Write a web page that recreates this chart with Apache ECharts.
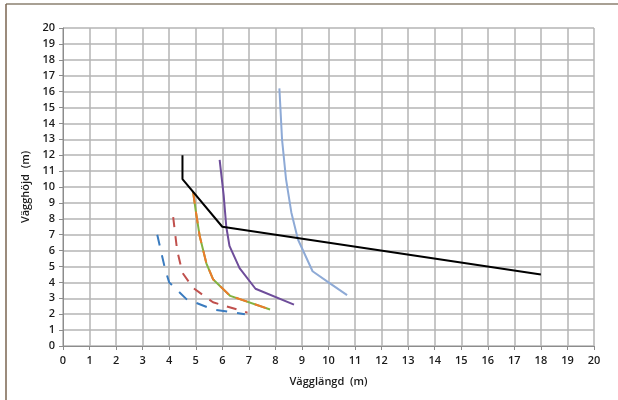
<!DOCTYPE html>
<html>
<head>
<meta charset="utf-8">
<script src="https://cdn.jsdelivr.net/npm/echarts@6/dist/echarts.min.js"></script>
<style>
  html, body { margin: 0; padding: 0; background: #fff; }
  #chart { width: 618px; height: 400px; }
</style>
</head>
<body>
<div id="chart"></div>
<script>
// curve data, [vägglängd, vägghöjd]
const blackLine  = [[4.5, 12], [4.5, 10.5], [6, 7.5], [18, 4.5]];
const purpleLine = [[5.9, 11.7], [6.05, 9.5], [6.15, 7.5], [6.27, 6.3], [6.65, 4.9], [7.25, 3.6], [8.7, 2.6]];
const lightBlue  = [[8.15, 16.2], [8.25, 13], [8.4, 10.5], [8.6, 8.4], [8.85, 6.7], [9.4, 4.7], [10.0, 4.0], [10.7, 3.2]];
const greenLine  = [[4.9, 9.7], [5.0, 8.5], [5.15, 6.9], [5.4, 5.2], [5.65, 4.2], [6.3, 3.15], [7.8, 2.3]];
const orangeLine = [[4.9, 9.7], [5.0, 8.5], [5.15, 6.9], [5.4, 5.2], [5.65, 4.2], [6.3, 3.15], [7.8, 2.3]];
const redDashed  = [[4.15, 8.1], [4.3, 6.0], [4.5, 4.6], [4.9, 3.65], [5.65, 2.75], [6.95, 2.1]];
const blueDashed = [[3.55, 7.0], [3.85, 4.8], [4.0, 4.0], [4.65, 2.95], [5.65, 2.3], [6.85, 2.0]];

let chart = echarts.init(document.getElementById('chart'));

let labelStyle = {
  color: '#1a1a1a',
  fontFamily: 'Open Sans',
  fontSize: 11,
  fontWeight: 600
};

function lineSeries(data, color, type) {
  return {
    type: 'line',
    data: data,
    symbol: 'none',
    smooth: false,
    lineStyle: { color: color, width: 2, type: type || 'solid' },
    animation: false
  };
}

let option = {
  animation: false,
  grid: { left: 63, right: 24, top: 28, bottom: 54 },
  graphic: [
    { type: 'line', shape: { x1: 6, y1: 4, x2: 618, y2: 4 }, style: { stroke: '#8b8070', lineWidth: 1.5 } },
    { type: 'line', shape: { x1: 6, y1: 4, x2: 6, y2: 400 }, style: { stroke: '#7a6450', lineWidth: 1.5 } }
  ],
  xAxis: {
    type: 'value',
    min: 0, max: 20, interval: 1,
    name: 'Vägglängd  (m)',
    nameLocation: 'middle',
    nameGap: 30,
    nameTextStyle: labelStyle,
    axisLine: { show: true, lineStyle: { color: '#8c8c8c', width: 1 } },
    axisTick: { show: true, length: 4, lineStyle: { color: '#8c8c8c' } },
    axisLabel: Object.assign({ margin: 9 }, labelStyle),
    splitLine: { show: true, lineStyle: { color: '#b4b4b4', width: 1.5 } }
  },
  yAxis: {
    type: 'value',
    min: 0, max: 20, interval: 1,
    name: 'Vägghöjd  (m)',
    nameLocation: 'middle',
    nameGap: 25,
    nameTextStyle: labelStyle,
    axisLine: { show: true, lineStyle: { color: '#8c8c8c', width: 1 } },
    axisTick: { show: true, length: 4, lineStyle: { color: '#8c8c8c' } },
    axisLabel: Object.assign({ margin: 8 }, labelStyle),
    splitLine: { show: true, lineStyle: { color: '#b4b4b4', width: 1.5 } }
  },
  series: [
    lineSeries(lightBlue, '#8eaad6'),
    lineSeries(purpleLine, '#6e4d9a'),
    lineSeries(greenLine, '#83b240'),
    lineSeries(orangeLine, '#ec7b2c', [12, 8]),
    lineSeries(redDashed, '#c0504d', [10, 9]),
    lineSeries(blueDashed, '#3a7bbf', [11, 10]),
    lineSeries(blackLine, '#000000')
  ]
};
chart.setOption(option);
</script>
</body>
</html>
